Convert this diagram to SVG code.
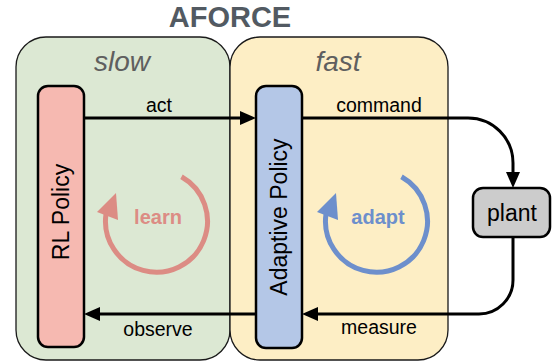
<svg xmlns="http://www.w3.org/2000/svg" width="552" height="362" viewBox="0 0 552 362">
  <defs>
    <style>
      .cont { stroke: #1a1a1a; stroke-width: 1.3; }
      .node { stroke: #000; stroke-width: 2.5; }
      .conn { fill: none; stroke: #000; stroke-width: 3; }
      .lbl { font-family: "Liberation Sans", Arial, sans-serif; font-size: 19.5px; fill: #000; text-anchor: middle; }
      .big { font-family: "Liberation Sans", Arial, sans-serif; font-size: 23px; fill: #000; text-anchor: middle; dominant-baseline: central; }
      .speed { font-family: "Liberation Sans", Arial, sans-serif; font-size: 28px; font-style: italic; fill: #5f5f5f; text-anchor: middle; }
      .loop { font-family: "Liberation Sans", Arial, sans-serif; font-size: 20px; font-weight: bold; text-anchor: middle; }
    </style>
    <marker id="arr" markerUnits="userSpaceOnUse" markerWidth="16" markerHeight="14" refX="6" refY="7" orient="auto">
      <path d="M0,0 L16,7 L0,14 z" fill="#000"/>
    </marker>
  </defs>

  <text x="230" y="27" font-family="Liberation Sans, Arial, sans-serif" font-size="29" font-weight="bold" fill="#525a62" text-anchor="middle">AFORCE</text>

  <g id="slow">
    <rect class="cont" x="16" y="37" width="214" height="323" rx="30" fill="#dce8d3"/>
    <text class="speed" x="122" y="71">slow</text>
  </g>
  <g id="fast">
    <rect class="cont" x="230" y="37" width="218" height="323" rx="30" fill="#fdeec5"/>
    <text class="speed" x="338" y="71">fast</text>
  </g>

  <g id="learn">
    <path d="M181.5,176.8 A51,51 0 1 1 106,214" fill="none" stroke="#dc8c84" stroke-width="5"/>
    <polygon points="116,193 97,212 118,220" fill="#dc8c84"/>
    <text class="loop" x="158" y="224" fill="#dc8c84">learn</text>
  </g>
  <g id="adapt">
    <path d="M401.5,176.8 A51,51 0 1 1 326,214" fill="none" stroke="#6d8fcc" stroke-width="5"/>
    <polygon points="336,193 317,212 338,220" fill="#6d8fcc"/>
    <text class="loop" x="378" y="224" fill="#6d8fcc">adapt</text>
  </g>

  <g id="rl-policy">
    <rect class="node" x="38" y="86" width="46" height="261" rx="10" fill="#f6b9b1"/>
    <text class="big" transform="translate(61,212) rotate(-90)">RL Policy</text>
  </g>
  <g id="adaptive-policy">
    <rect class="node" x="256" y="86" width="46" height="262" rx="10" fill="#b4c7e7"/>
    <text class="big" font-size="22" transform="translate(279,217) rotate(-90)">Adaptive Policy</text>
  </g>
  <g id="plant">
    <rect class="node" x="473" y="188" width="77" height="49" rx="10" fill="#cccccc"/>
    <text class="big" x="512" y="213" font-size="21">plant</text>
  </g>

  <g id="connectors">
    <path class="conn" d="M84,118 H246" marker-end="url(#arr)"/>
    <path class="conn" d="M302,118 H468 A45,45 0 0 1 513,163 V178" marker-end="url(#arr)"/>
    <path class="conn" d="M513,237 V280 A34,34 0 0 1 479,314 H312" marker-end="url(#arr)"/>
    <path class="conn" d="M256,314 H94" marker-end="url(#arr)"/>
    <text class="lbl" x="159" y="112">act</text>
    <text class="lbl" x="379" y="112">command</text>
    <text class="lbl" x="158" y="336">observe</text>
    <text class="lbl" x="379" y="334">measure</text>
  </g>
</svg>
